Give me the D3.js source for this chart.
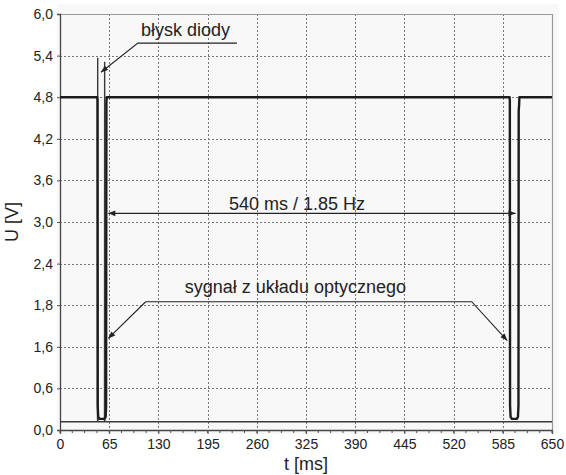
<!DOCTYPE html>
<html><head><meta charset="utf-8">
<script src="https://cdn.jsdelivr.net/npm/d3@7"></script>
<style>body{margin:0;background:#fff}svg{display:block}text{font-family:"Liberation Sans",Arial,sans-serif;fill:#222}</style>
</head><body><svg id="c" width="566" height="475"></svg>
<script>
// ---- data ----
const xTicks = [0,65,130,195,260,325,390,455,520,585,650];
const xTickLabels = ["0","65","130","195","260","325","390","445","520","585","650"];
const yTicks = [0,0.6,1.2,1.8,2.4,3.0,3.6,4.2,4.8,5.4,6.0];
const yTickLabels = ["0,0","0,6","1,6","1,8","2,4","3,0","3,6","4,2","4,8","5,4","6,0"];
// optical sensor signal
const opticT = [0,49.2,49.5,49.8,50.5,52,58.5,60.3,60.9,61.3,61.7,594.0,594.3,594.6,595.3,597,603.5,605.0,605.7,606.0,606.6,606.9,650];
const opticV = [4.8,4.8,4.75,0.35,0.19,0.16,0.16,0.19,0.35,4.72,4.8,4.8,4.75,0.35,0.19,0.16,0.16,0.19,0.35,4.6,4.7,4.8,4.8];
// diode flash signal
const flashT = [0,49.6,49.8,50.0,58.8,59.0,59.2,650];
const flashV = [0.12,0.12,5.37,0.12,0.12,5.31,0.12,0.12];
// annotations (data space)
const flashLabel = "błysk diody";
const periodLabel = "540 ms / 1.85 Hz";
const signalLabel = "sygnał z układu optycznego";
const xTitle = "t [ms]", yTitle = "U [V]";

// ---- chart ----
const svg = d3.select("#c");
const x = d3.scaleLinear().domain([0,650]).range([60,552]);
const y = d3.scaleLinear().domain([0,6]).range([430,14]);

svg.append("rect").attr("x",57).attr("y",4).attr("width",502).attr("height",430).attr("fill","#f8f8f8");

// grid
const grid = svg.append("g").attr("stroke","#777").attr("stroke-width",1).attr("stroke-dasharray","2,2");
grid.selectAll("line.v").data(xTicks.slice(1,-1)).join("line")
  .attr("x1",d=>Math.round(x(d))+0.5).attr("x2",d=>Math.round(x(d))+0.5).attr("y1",y(6)).attr("y2",y(0));
grid.selectAll("line.h").data(yTicks.slice(1,-1)).join("line")
  .attr("y1",d=>Math.round(y(d))+0.5).attr("y2",d=>Math.round(y(d))+0.5).attr("x1",x(0)).attr("x2",x(650));

// frame top/right
svg.append("path").attr("d",`M${x(0)},${y(6)+0.5}H${x(650)+0.5}V${y(0)}`).attr("fill","none").attr("stroke","#999").attr("stroke-width",1.2);

// axes
const xAxis = d3.axisBottom(x).tickValues(xTicks).tickFormat((d,i)=>xTickLabels[i]).tickSize(4).tickPadding(5);
const gx = svg.append("g").attr("transform",`translate(0,${y(0)})`).call(xAxis);
const xMinor = d3.range(0,651,16.25);
svg.append("g").attr("transform",`translate(0,${y(0)})`).selectAll("line").data(xMinor).join("line")
  .attr("x1",d=>x(d)).attr("x2",d=>x(d)).attr("y1",0).attr("y2",3).attr("stroke","#555");
const yAxis = d3.axisLeft(y).tickValues(yTicks).tickFormat((d,i)=>yTickLabels[i]).tickSize(3).tickPadding(4);
const gy = svg.append("g").attr("transform",`translate(${x(0)},0)`).call(yAxis);
[gx,gy].forEach(g=>{
  g.select(".domain").attr("stroke","#444").attr("stroke-width",1.3);
  g.selectAll(".tick line").attr("stroke","#555");
  g.selectAll("text").attr("font-size",14).attr("fill","#222").style("font-family",'"Liberation Sans",Arial,sans-serif');
});

// axis titles
svg.append("text").attr("x",x(325)).attr("y",470).attr("text-anchor","middle").attr("font-size",18).text(xTitle);
svg.append("text").attr("transform",`translate(18,${y(3)}) rotate(-90)`).attr("text-anchor","middle").attr("font-size",18).text(yTitle);

// traces
const line = d3.line().x(d=>x(d[0])).y(d=>y(d[1]));
svg.append("path").datum(flashT.map((t,i)=>[t,flashV[i]])).attr("d",line)
  .attr("fill","none").attr("stroke","#3a3a3a").attr("stroke-width",1.4);
svg.append("path").datum(opticT.map((t,i)=>[t,opticV[i]])).attr("d",line)
  .attr("fill","none").attr("stroke","#1c1c1c").attr("stroke-width",2.4).attr("stroke-linejoin","round");

// arrow markers
const defs = svg.append("defs");
defs.append("marker").attr("id","ah").attr("viewBox","0 0 10 10").attr("refX",10).attr("refY",5)
  .attr("markerWidth",9).attr("markerHeight",7).attr("markerUnits","userSpaceOnUse").attr("orient","auto-start-reverse")
  .append("path").attr("d","M0,1L10,5L0,9z").attr("fill","#222");

const ann = svg.append("g").attr("fill","none").attr("stroke","#222").attr("stroke-width",1.1);
// błysk diody
ann.append("path").datum([[233.8,5.58],[102.9,5.58],[54.1,5.16]]).attr("d",line).attr("marker-end","url(#ah)");
svg.append("text").attr("x",x(107)).attr("y",y(5.68)).attr("font-size",18).text(flashLabel);
// period
ann.append("path").datum([[63.8,3.125],[601.8,3.125]]).attr("d",line).attr("marker-start","url(#ah)").attr("marker-end","url(#ah)");
svg.append("text").attr("x",x(313)).attr("y",y(3.17)).attr("text-anchor","middle").attr("font-size",18).text(periodLabel);
// signal
ann.append("path").datum([[113.2,1.85],[63.8,1.32]]).attr("d",line).attr("marker-end","url(#ah)");
ann.append("path").datum([[113.2,1.85],[543.9,1.85],[590.9,1.29]]).attr("d",line).attr("marker-end","url(#ah)");
svg.append("text").attr("x",x(311)).attr("y",y(1.976)).attr("text-anchor","middle").attr("font-size",18).text(signalLabel);
</script></body></html>
